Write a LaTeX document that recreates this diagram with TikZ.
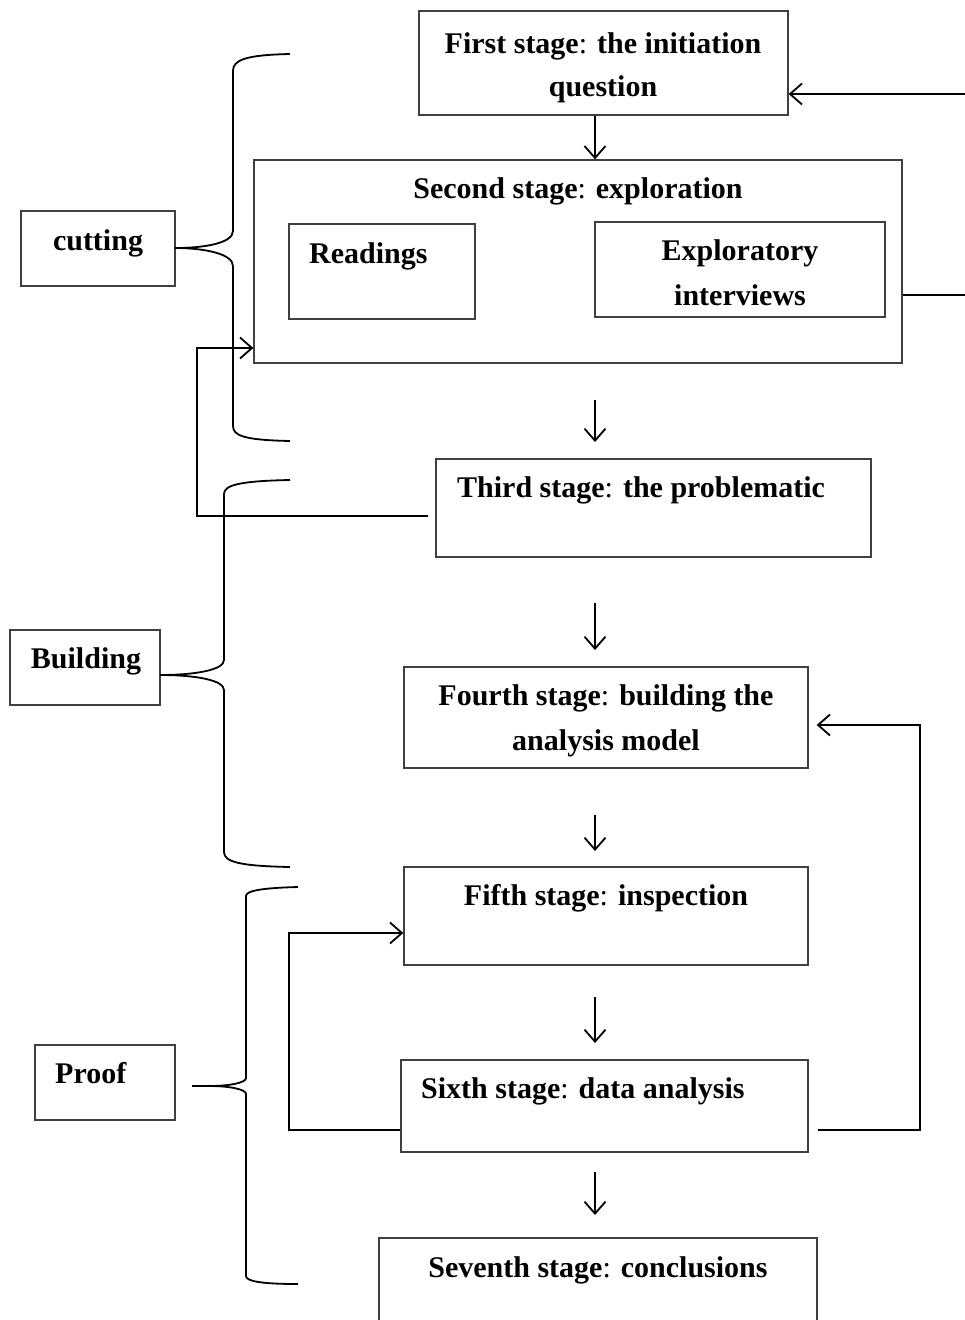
\documentclass[tikz,border=0pt]{standalone}
\usepackage{fontspec}
\setmainfont{Liberation Serif}
\usetikzlibrary{arrows.meta}
\newcommand{\cln}{{\mdseries:}}
\begin{document}
\begin{tikzpicture}[x=1pt,y=-1pt,
  box/.style={draw=black!75, line width=1.3pt, inner sep=0pt, fill=none},
  txt/.style={inner sep=0pt, anchor=base, font=\fontsize{30}{36}\selectfont\bfseries},
  txtw/.style={txt, anchor=base west},
  conn/.style={draw=black, line width=1.8pt},
  arr/.style={conn, -{Straight Barb[length=12pt,width=21pt]}},
  brace/.style={draw=black, line width=1.8pt}]
\useasboundingbox (0,0) rectangle (965,1320);

% boxes
\node[box, minimum width=369pt, minimum height=104pt] (b1) at (603.5,63) {};
\node[box, minimum width=648pt, minimum height=203pt] (b2) at (578,261.5) {};
\node[box, minimum width=186pt, minimum height=95pt] (rd) at (382,271.5) {};
\node[box, minimum width=290pt, minimum height=95pt] (ei) at (740,269.5) {};
\node[box, minimum width=435pt, minimum height=98pt] (b3) at (653.5,508) {};
\node[box, minimum width=404pt, minimum height=101pt] (b4) at (606,717.5) {};
\node[box, minimum width=404pt, minimum height=98pt] (b5) at (606,916) {};
\node[box, minimum width=407pt, minimum height=92pt] (b6) at (604.5,1106) {};
\node[box, minimum width=438pt, minimum height=100pt] (b7) at (598,1288) {};
\node[box, minimum width=154pt, minimum height=75pt] (cut) at (98,248.5) {};
\node[box, minimum width=150pt, minimum height=75pt] (bld) at (85,667.5) {};
\node[box, minimum width=140pt, minimum height=75pt] (prf) at (105,1082.5) {};

% texts
\node[txt] (t1a) at (603,53) {First stage\cln{} the initiation};
\node[txt] (t1b) at (603,96) {question};
\node[txt] (t2) at (578,198) {Second stage\cln{} exploration};
\node[txtw] (trd) at (309,263) {Readings};
\node[txt] (tei1) at (740,260) {Exploratory};
\node[txt] (tei2) at (740,305) {interviews};
\node[txtw] (t3) at (457,497) {Third stage\cln{} the problematic};
\node[txt] (t4a) at (606,705) {Fourth stage\cln{} building the};
\node[txt] (t4b) at (606,750) {analysis model};
\node[txt] (t5) at (606,905) {Fifth stage\cln{} inspection};
\node[txtw] (t6) at (421,1098) {Sixth stage\cln{} data analysis};
\node[txt] (t7) at (598,1277) {Seventh stage\cln{} conclusions};
\node[txt] (tcut) at (98,250) {cutting};
\node[txt] (tbld) at (86,668) {Building};
\node[txtw] (tprf) at (55,1083) {Proof};

% helper coordinates
\coordinate (xc) at (595,0);
\coordinate (rin) at (965,94);
\coordinate (rout) at (965,295);
\coordinate (a2s) at (595,400); \coordinate (a2e) at (595,442);
\coordinate (a3s) at (595,603); \coordinate (a3e) at (595,650);
\coordinate (a4s) at (595,815); \coordinate (a4e) at (595,851);
\coordinate (a5s) at (595,997); \coordinate (a5e) at (595,1043);
\coordinate (a6s) at (595,1172); \coordinate (a6e) at (595,1215);
\coordinate (l3) at (428,516); \coordinate (l3c) at (197,348);
\coordinate (l6a) at (289,1130); \coordinate (l6) at (289,933);
\coordinate (r6b) at (920,1130); \coordinate (r4) at (920,725);

% connectors
\draw[arr] (b1.south -| xc) -- (b2.north -| xc);
\draw[arr] (rin) -- (rin -| b1.east);
\draw[conn] (b2.east |- rout) -- (rout);
\draw[arr] (a2s) -- (a2e);
\draw[arr] (a3s) -- (a3e);
\draw[arr] (a4s) -- (a4e);
\draw[arr] (a5s) -- (a5e);
\draw[arr] (a6s) -- (a6e);
\draw[arr] (l3) -| (l3c) -- (l3c -| b2.west);
\draw[arr] (l6a -| b6.west) -- (l6a) -- (l6) -- (l6 -| b5.west);
\draw[arr, shorten <=9pt, shorten >=8pt] (r6b -| b6.east) -- (r6b) -- (r4) -- (r4 -| b4.east);

% braces
\draw[brace] (290,54) .. controls (245,55) and (233,60) .. (233,71) -- (233,231)
  .. controls (233,243) and (205,248) .. (175,248)
  .. controls (205,248) and (233,254) .. (233,266) -- (233,426)
  .. controls (233,436) and (245,440) .. (290,441);
\draw[brace] (290,480) .. controls (240,481) and (224,485) .. (224,494) -- (224,660)
  .. controls (224,670) and (195,675) .. (160,675)
  .. controls (195,675) and (224,680) .. (224,690) -- (224,852)
  .. controls (224,862) and (240,866) .. (290,867);
\draw[brace] (298,887) .. controls (260,888) and (246,891) .. (246,896) -- (246,1078)
  .. controls (246,1083) and (228,1086) .. (210,1086) -- (192,1086);
\draw[brace] (210,1086) .. controls (228,1086) and (246,1089) .. (246,1094) -- (246,1276)
  .. controls (246,1281) and (260,1284) .. (298,1284);
\end{tikzpicture}
\end{document}
